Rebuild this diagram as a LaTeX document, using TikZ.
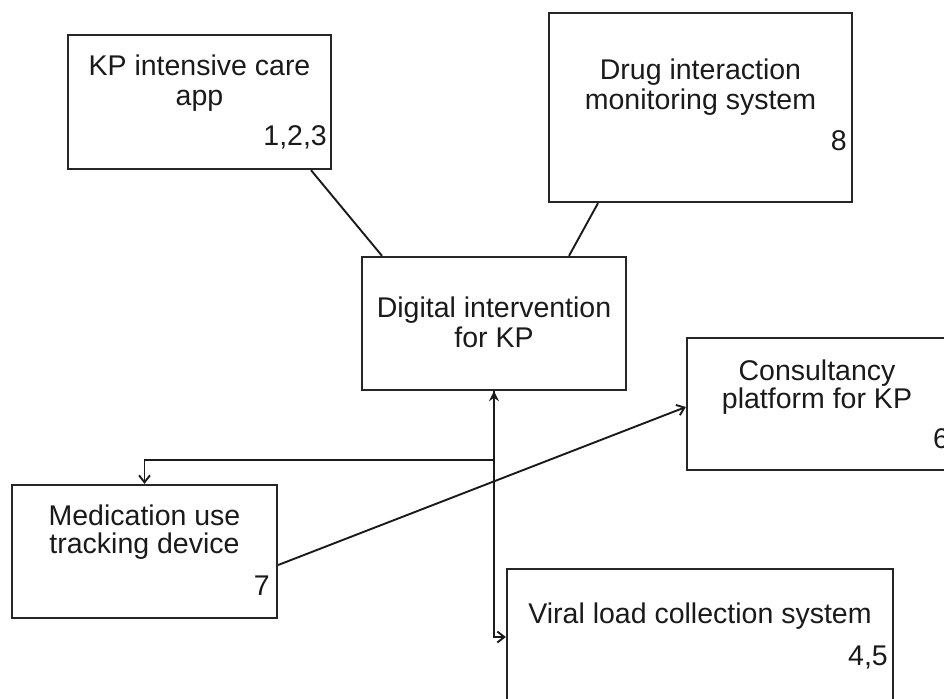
\documentclass[tikz,border=0pt]{standalone}
\usepackage{fontspec}
\setmainfont{Liberation Sans}
\usetikzlibrary{arrows.meta}
\definecolor{ink}{HTML}{1A1A1A}
\definecolor{boxline}{HTML}{262626}
\begin{document}
\begin{tikzpicture}[x=1pt,y=-1pt,
  box/.style={draw=boxline, line width=2.3pt, rectangle, inner sep=0pt},
  txt/.style={inner sep=0pt, anchor=base, text=ink, font=\fontsize{28.5}{30}\selectfont},
  num/.style={txt, anchor=base east},
  link/.style={draw=ink, line width=1.9pt},
  tip/.style={-{Straight Barb[length=7pt,width=11pt,line width=1.9pt]}}]
\clip (0,0) rectangle (944,698);

% boxes
\node[box, minimum width=263pt, minimum height=134pt] (kp)    at (199.5,102)   {};
\node[box, minimum width=303pt, minimum height=189pt] (drug)  at (700.5,107.5) {};
\node[box, minimum width=264pt, minimum height=133pt] (dig)   at (494,323.5)   {};
\node[box, minimum width=260pt, minimum height=132pt] (cons)  at (817,404)     {};
\node[box, minimum width=265pt, minimum height=133pt] (med)   at (144.5,551.5) {};
\node[box, minimum width=386pt, minimum height=191pt] (viral) at (700,664.5)   {};

% labels
\node[txt] (kp-l1) at (199.5,76)  {KP intensive care};
\node[txt] (kp-l2) at (199.5,106) {app};
\node[num] (kp-n)  at (327,145)   {1,2,3};

\node[txt] (drug-l1) at (700.5,80)  {Drug interaction};
\node[txt] (drug-l2) at (700.5,110) {monitoring system};
\node[num] (drug-n)  at (847,150)   {8};

\node[txt] (dig-l1) at (494,317) {Digital intervention};
\node[txt] (dig-l2) at (494,347) {for KP};

\node[txt] (cons-l1) at (817,380) {Consultancy};
\node[txt] (cons-l2) at (817,408) {platform for KP};
\node[txt, anchor=base west] (cons-n) at (933,448) {6};

\node[txt] (med-l1) at (144.5,525) {Medication use};
\node[txt] (med-l2) at (144.5,553) {tracking device};
\node[num] (med-n)  at (270,595)   {7};

\node[txt] (viral-l1) at (700,623) {Viral load collection system};
\node[num] (viral-n)  at (888,665) {4,5};

% connectors
\draw[link] ([xshift=111.5pt]kp.south) -- ([xshift=-112pt]dig.north);
\draw[link] ([xshift=-102.5pt]drug.south) -- ([xshift=75pt]dig.north);

\coordinate (split) at (dig.south |- 0,460);
\draw[link, tip] (dig.south) |- ([yshift=27.5pt]viral.west);
\draw[link, line width=2.8pt, -{Stealth[length=10pt,width=10pt]}] (split) -- (dig.south);
\draw[link, tip] (split) -| (med.north);
\draw[link, tip] ([yshift=-13.5pt]med.east) -- ([yshift=-3pt]cons.west);
\end{tikzpicture}
\end{document}
